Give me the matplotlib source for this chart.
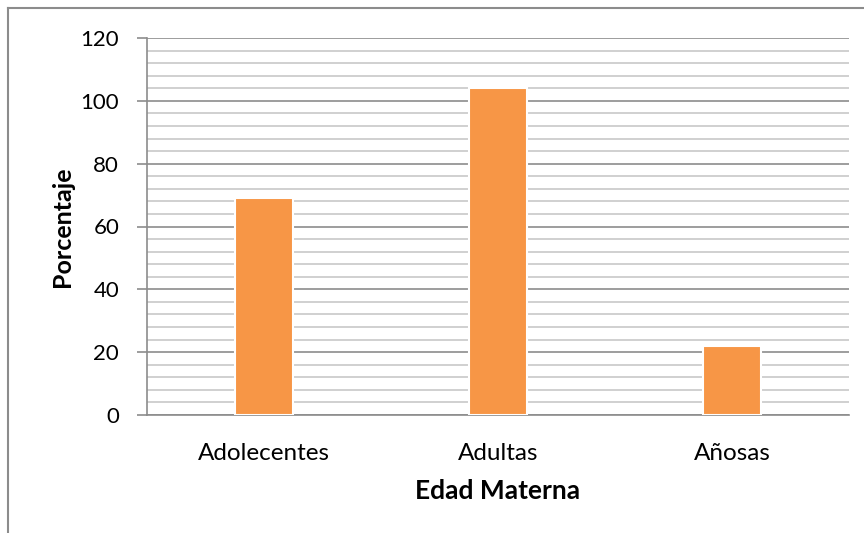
import matplotlib
matplotlib.use("Agg")
import matplotlib.pyplot as plt
from matplotlib.lines import Line2D
from matplotlib.ticker import MultipleLocator

categories = ["Adolecentes", "Adultas", "Añosas"]
values = [69, 104, 22]
y_ticks = [0, 20, 40, 60, 80, 100, 120]

plt.rcParams['font.family'] = ['Lato', 'DejaVu Sans']

fig = plt.figure(figsize=(8.64, 5.33), dpi=100)
ax = fig.add_axes([147/864, 1-415/533, (849-147)/864, (415-38)/533])

x = list(range(len(categories)))
ax.bar(x, values, width=0.25, color="#F79646", edgecolor="white", linewidth=1.5, zorder=3)

ax.set_xlim(-0.5, len(categories) - 0.5)
ax.set_ylim(0, 120)
ax.set_yticks(y_ticks)
ax.yaxis.set_minor_locator(MultipleLocator(4))
ax.set_xticks(x)
ax.set_xticklabels(categories)

ax.grid(axis='y', which='major', color="#8C8C8C", linewidth=1.2, zorder=0)
ax.grid(axis='y', which='minor', color="#C8C8C8", linewidth=1.2, zorder=0)
ax.set_axisbelow(True)

for s in ['top', 'right']:
    ax.spines[s].set_visible(False)
ax.spines['left'].set_color("#8C8C8C")
ax.spines['bottom'].set_color("#8C8C8C")
ax.spines['left'].set_linewidth(1.2)
ax.spines['bottom'].set_linewidth(1.2)

ax.tick_params(axis='y', which='major', length=7, color="#8C8C8C", width=1.2, labelsize=16, pad=13)
ax.tick_params(axis='y', which='minor', length=0)
ax.tick_params(axis='x', length=0, labelsize=17.5, pad=20)

ax.set_ylabel("Porcentaje", fontsize=18, fontweight='bold', labelpad=5)
ax.set_xlabel("Edad Materna", fontsize=19, fontweight='bold', labelpad=11)

# outer border of chart area
fig.add_artist(Line2D([8/864, 8/864], [0, 1-8/533], color="#8C8C8C", linewidth=1.5, transform=fig.transFigure))
fig.add_artist(Line2D([8/864, 1], [1-8/533, 1-8/533], color="#8C8C8C", linewidth=1.5, transform=fig.transFigure))

fig.savefig("out.png", dpi=100)
